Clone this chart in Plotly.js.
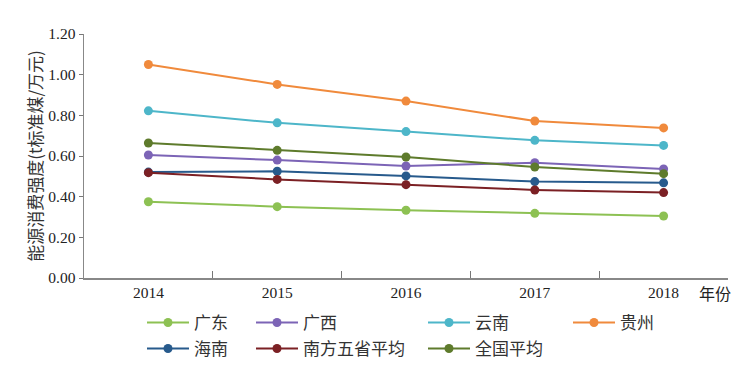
<!DOCTYPE html>
<html>
<head>
<meta charset="utf-8">
<script src="https://cdn.plot.ly/plotly-3.0.1.min.js"></script>
<style>html,body{margin:0;padding:0;background:#fff;}#chart{width:750px;height:366px;}</style>
</head>
<body>
<div id="chart"></div>
<script>
const years = ['2014', '2015', '2016', '2017', '2018'];
const guangdong = [0.375, 0.351, 0.333, 0.318, 0.305];
const guangxi = [0.605, 0.580, 0.551, 0.567, 0.536];
const yunnan = [0.822, 0.763, 0.720, 0.677, 0.652];
const guizhou = [1.050, 0.952, 0.870, 0.772, 0.738];
const hainan = [0.521, 0.525, 0.502, 0.474, 0.468];
const southAvg = [0.518, 0.485, 0.459, 0.433, 0.420];
const nationAvg = [0.664, 0.628, 0.595, 0.546, 0.513];
const seriesNames = ['广东', '广西', '云南', '贵州', '海南', '南方五省平均', '全国平均'];
const yTitle = '能源消费强度(t标准煤/万元)';
const xUnit = '年份';

const seriesValues = [guangdong, guangxi, yunnan, guizhou, hainan, southAvg, nationAvg];
const colors = ['#8dc153', '#7c64b6', '#4db6c9', '#f08a3c', '#275a8c', '#7b2024', '#5e7b2c'];
const legendIds = ['legend', 'legend2', 'legend3', 'legend4', 'legend5', 'legend6', 'legend7'];
const order = [0, 4, 5, 1, 6, 2, 3];

const traces = order.map(i => ({
  x: years, y: seriesValues[i], name: seriesNames[i], type: 'scatter', mode: 'lines+markers',
  line: {color: colors[i], width: 2},
  marker: {color: colors[i], size: 9},
  legend: legendIds[i]
}));

const cjk = '"Noto Sans CJK SC", "Noto Sans", sans-serif';
const serif = '"Liberation Serif", "DejaVu Serif", serif';
const legFont = {family: cjk, size: 17, color: '#333'};
function leg(xpx, ypx) {
  return {x: (xpx - 84) / 644, y: (278 - ypx) / 244,
    xanchor: 'left', yanchor: 'middle', itemwidth: 42,
    orientation: 'v', font: legFont, bgcolor: 'rgba(0,0,0,0)'};
}

const layout = {
  width: 750, height: 366,
  margin: {l: 84, r: 22, t: 34, b: 88, autoexpand: false},
  paper_bgcolor: '#fff', plot_bgcolor: '#fff',
  showlegend: true,
  xaxis: {
    type: 'category', categoryorder: 'array', categoryarray: years,
    range: [-0.5, 4.5], tickson: 'boundaries', ticks: 'inside', ticklen: 7, tickcolor: '#777',
    showline: true, linecolor: '#888', linewidth: 1.5, showgrid: false, zeroline: false,
    tickfont: {family: serif, size: 15.5, color: '#222'}
  },
  yaxis: {
    range: [0, 1.2], dtick: 0.2, tick0: 0, tickformat: '.2f',
    ticks: 'outside', ticklen: 4, tickcolor: '#777',
    showline: true, linecolor: '#888', linewidth: 1.5, showgrid: false, zeroline: false,
    tickfont: {family: serif, size: 15.5, color: '#222'},
    title: {text: yTitle, font: {family: cjk, size: 17, color: '#333'}, standoff: 1}
  },
  legend: leg(142, 323), legend2: leg(251, 323), legend3: leg(423, 323), legend4: leg(568, 323),
  legend5: leg(142, 349), legend6: leg(251, 349), legend7: leg(423, 349),
  annotations: [{
    text: xUnit, xref: 'paper', yref: 'paper', x: 0.98, y: -0.062,
    xanchor: 'center', yanchor: 'middle', showarrow: false,
    font: {family: cjk, size: 16, color: '#222'}
  }]
};

Plotly.newPlot('chart', traces, layout, {displayModeBar: false, staticPlot: true});
</script>
</body>
</html>
